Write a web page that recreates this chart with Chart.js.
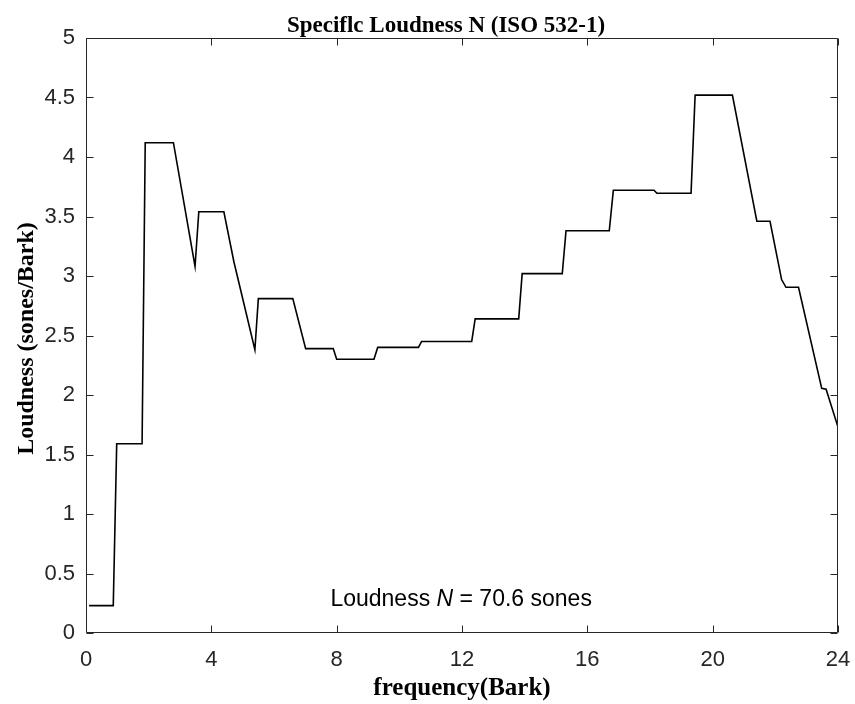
<!DOCTYPE html>
<html>
<head>
<meta charset="utf-8">
<script src="https://cdn.jsdelivr.net/npm/chart.js@4"></script>
<style>
  html, body { margin: 0; padding: 0; background: #fff; }
  canvas { display: block; }
</style>
</head>
<body>
<canvas id="chart" width="855" height="704"></canvas>
<script>
// critical band rate (Bark) and specific loudness (sones/Bark)
const barkX = [0.1, 0.87, 0.98, 1.79, 1.89, 2.79, 3.48, 3.6, 4.4, 4.72, 5.39, 5.5, 6.6, 7.01,
  7.89, 8.0, 9.19, 9.31, 10.61, 10.71, 12.31, 12.42, 13.81, 13.92, 15.2, 15.32, 16.7, 16.83,
  18.13, 18.22, 19.31, 19.44, 20.63, 21.41, 21.83, 22.2, 22.34, 22.74, 23.48, 23.62, 24.0];
const loudnessY = [0.23, 0.23, 1.59, 1.59, 4.12, 4.12, 3.08, 3.54, 3.54, 3.12, 2.38, 2.81, 2.81, 2.39,
  2.39, 2.30, 2.30, 2.40, 2.40, 2.45, 2.45, 2.64, 2.64, 3.02, 3.02, 3.38, 3.38, 3.72,
  3.72, 3.695, 3.695, 4.52, 4.52, 3.46, 3.46, 2.97, 2.905, 2.905, 2.056, 2.048, 1.73];

const xTicks = [0, 4, 8, 12, 16, 20, 24];
const yTicks = [0, 0.5, 1, 1.5, 2, 2.5, 3, 3.5, 4, 4.5, 5];

const titleText = "Speciflc Loudness N (ISO 532-1)";
const xLabel = "frequency(Bark)";
const yLabel = "Loudness (sones/Bark)";
const totalLoudness = 70.6;

const AXIS = "#262626";
const SANS = "'Liberation Sans', Arial, sans-serif";
const SERIF = "'Liberation Serif', 'Times New Roman', serif";

// inward ticks on all four sides, box, titles and the annotation
const decorations = {
  id: "decorations",
  afterDraw(chart) {
    const ctx = chart.ctx;
    const a = chart.chartArea;
    const xs = chart.scales.x, ys = chart.scales.y;
    const L = Math.round(a.left) + 0.5, R = Math.round(a.right) - 0.5;
    const T = Math.round(a.top) + 0.5, B = Math.round(a.bottom) - 0.5;
    ctx.save();
    ctx.strokeStyle = AXIS;
    ctx.lineWidth = 1;
    ctx.beginPath();
    ctx.rect(L, T, R - L, B - T);
    const tl = 7;
    xTicks.forEach(v => {
      const px = Math.round(xs.getPixelForValue(v)) + 0.5;
      ctx.moveTo(px, B); ctx.lineTo(px, B - tl);
      ctx.moveTo(px, T); ctx.lineTo(px, T + tl);
    });
    yTicks.forEach(v => {
      const py = Math.round(ys.getPixelForValue(v)) + 0.5;
      ctx.moveTo(L, py); ctx.lineTo(L + tl, py);
      ctx.moveTo(R, py); ctx.lineTo(R - tl, py);
    });
    ctx.stroke();

    ctx.fillStyle = "#000";
    ctx.textBaseline = "alphabetic";
    ctx.textAlign = "center";
    ctx.font = "bold 23px " + SERIF;
    ctx.fillText(titleText, 446, 32);
    ctx.font = "bold 25px " + SERIF;
    ctx.fillText(xLabel, (a.left + a.right) / 2, 695);
    ctx.font = "bold 24px " + SERIF;
    ctx.save();
    ctx.translate(33, (a.top + a.bottom) / 2 + 3);
    ctx.rotate(-Math.PI / 2);
    ctx.fillText(yLabel, 0, 0);
    ctx.restore();

    // Loudness N = ... annotation, placed in data coordinates
    ctx.textAlign = "left";
    ctx.textBaseline = "middle";
    let tx = xs.getPixelForValue(7.8);
    const ty = ys.getPixelForValue(0.28);
    const parts = [["Loudness ", "23px " + SANS], ["N", "italic 23px " + SANS],
      [" = " + totalLoudness + " sones", "23px " + SANS]];
    parts.forEach(([s, f]) => {
      ctx.font = f;
      ctx.fillText(s, tx, ty);
      tx += ctx.measureText(s).width;
    });
    ctx.restore();
  }
};

const points = barkX.map((x, i) => ({ x: x, y: loudnessY[i] }));

new Chart(document.getElementById("chart"), {
  type: "line",
  data: {
    datasets: [{
      data: points,
      borderColor: "#000",
      borderWidth: 1.6,
      pointRadius: 0,
      tension: 0,
      fill: false
    }]
  },
  options: {
    responsive: false,
    animation: false,
    layout: { padding: { top: 38, right: 17, left: 0, bottom: 0 } },
    plugins: { legend: { display: false }, tooltip: { enabled: false }, title: { display: false } },
    scales: {
      x: {
        type: "linear",
        min: 0, max: 24,
        afterBuildTicks: s => { s.ticks = xTicks.map(v => ({ value: v })); },
        afterFit: s => { s.height = 71; s.paddingLeft = 0; s.paddingRight = 0; },
        grid: { display: false, drawTicks: false },
        border: { display: false },
        ticks: { color: AXIS, font: { family: SANS, size: 22 }, padding: 14, maxRotation: 0,
          callback: v => String(v) }
      },
      y: {
        type: "linear",
        min: 0, max: 5,
        afterBuildTicks: s => { s.ticks = yTicks.map(v => ({ value: v })); },
        afterFit: s => { s.width = 86; s.paddingTop = 0; s.paddingBottom = 0; },
        grid: { display: false, drawTicks: false },
        border: { display: false },
        ticks: { color: AXIS, font: { family: SANS, size: 22 }, padding: 11,
          callback: v => String(v) }
      }
    }
  },
  plugins: [decorations]
});
</script>
</body>
</html>
